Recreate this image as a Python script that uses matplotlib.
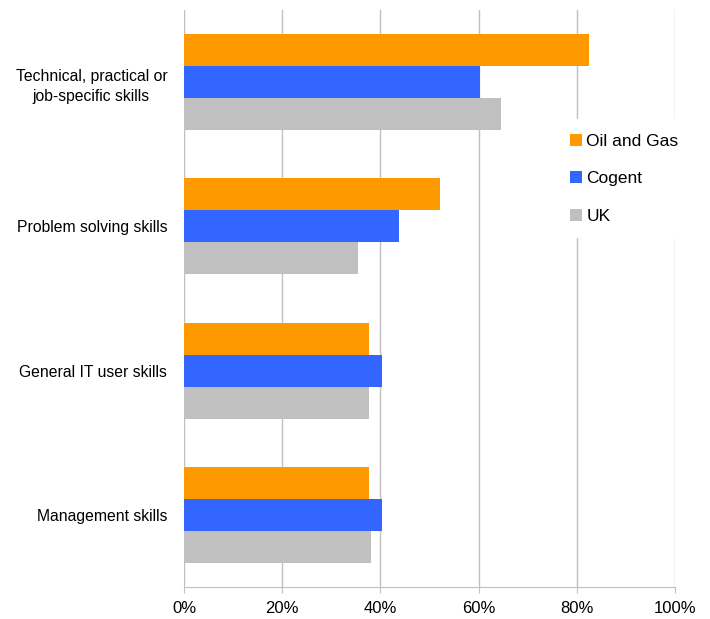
import matplotlib
matplotlib.use("Agg")
import matplotlib.pyplot as plt
import numpy as np

plt.rcParams['font.family'] = ['Liberation Sans', 'DejaVu Sans']

categories = ["Technical, practical or\njob-specific skills", "Problem solving skills",
              "General IT user skills", "Management skills"]
series_names = ["Oil and Gas", "Cogent", "UK"]
oil_gas = [82.5, 52.2, 37.6, 37.6]
cogent = [60.2, 43.7, 40.4, 40.4]
uk = [64.6, 35.5, 37.6, 38.0]
colors = ["#FF9900", "#3366FF", "#C0C0C0"]
xticks = [0, 20, 40, 60, 80, 100]
xtick_labels = ["0%", "20%", "40%", "60%", "80%", "100%"]

fig = plt.figure(figsize=(7.1, 6.19), dpi=100)
ax = fig.add_axes([184/710, 1-587/619, (675-184)/710, (587-10)/619])

y = np.arange(len(categories))
h = 0.222
for i, (vals, c, name) in enumerate(zip([oil_gas, cogent, uk], colors, series_names)):
    ax.barh(y + (i - 1) * h, vals, height=h, color=c, label=name, zorder=2)

ax.set_ylim(3.5, -0.5)
ax.set_xlim(0, 100)
ax.set_xticks(xticks)
ax.set_xticklabels(xtick_labels, fontsize=12)
ax.set_yticks(y)
ax.set_yticklabels(categories, fontsize=11.3, ha='right', multialignment='center',
                   linespacing=1.45)
ax.tick_params(axis='y', length=0, pad=12)
ax.tick_params(axis='x', length=4, color='#C0C0C0', pad=6)
ax.grid(axis='x', color='#C0C0C0', linewidth=1, zorder=0)
for s in ['top', 'right', 'left']:
    ax.spines[s].set_visible(False)
ax.spines['bottom'].set_color('#C0C0C0')

leg = ax.legend(loc='upper left', bbox_to_anchor=(555/710, 1-119/619), bbox_transform=fig.transFigure,
                frameon=True, fancybox=False, edgecolor='none', facecolor='white', framealpha=1,
                fontsize=12.5, handlelength=0.7, handleheight=0.7, handletextpad=0.25,
                labelspacing=1.28, borderpad=0.85, borderaxespad=0)
leg.set_zorder(5)

fig.savefig("out.png", dpi=100)
